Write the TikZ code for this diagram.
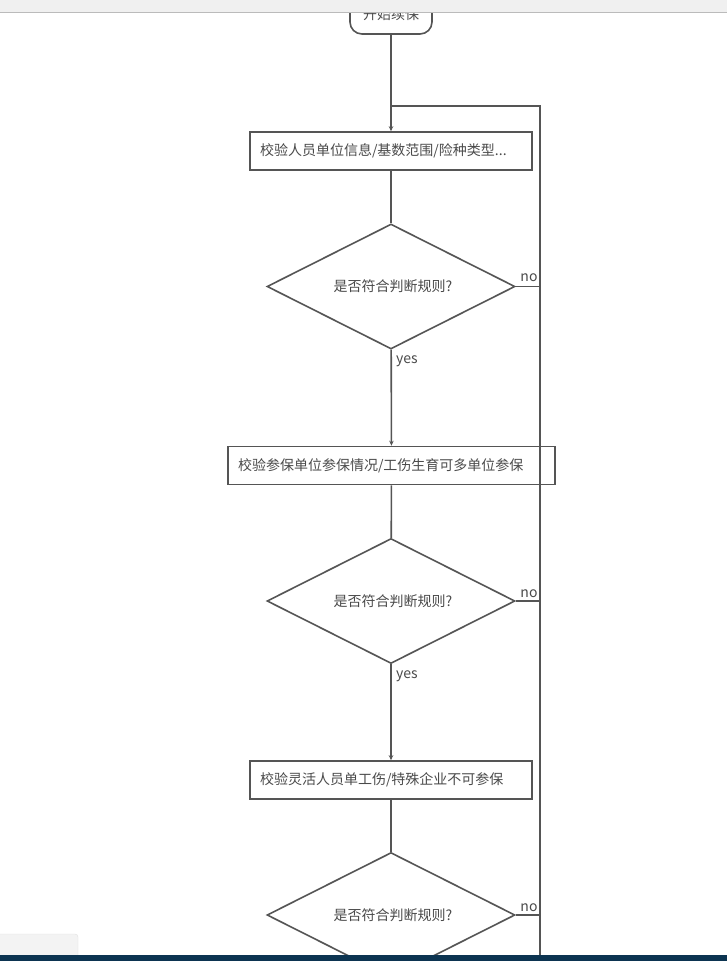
\documentclass[tikz,border=0pt]{standalone}
\usepackage{fontspec}
\setmainfont{Noto Sans CJK SC}
\usetikzlibrary{shapes.geometric,arrows.meta}
\definecolor{ln}{HTML}{555555}
\definecolor{tx}{HTML}{4A4A4A}
\definecolor{barg}{HTML}{F0F0F0}
\definecolor{barline}{HTML}{BBBBBB}
\definecolor{darkbar}{HTML}{0C3451}
\tikzset{
  flow/.style={draw=ln, line width=1.6pt},
  arr/.style={flow, -{Stealth[length=5pt,width=4.5pt]}},
  procbox/.style={draw=ln, line width=1.6pt, rectangle, align=left, inner xsep=10pt, inner ysep=0pt, minimum height=38pt, text=tx, font=\fontsize{14}{16}\selectfont},
  decide/.style={draw=ln, line width=1.6pt, diamond, aspect=2, minimum width=248pt, minimum height=125pt, inner sep=0pt, text=tx, font=\fontsize{14}{16}\selectfont},
  termbox/.style={draw=ln, line width=1.6pt, rectangle, rounded corners=12pt, minimum width=82pt, minimum height=40pt, text=tx, font=\fontsize{14}{16}\selectfont},
  lbl/.style={text=tx, font=\fontsize{14}{16}\selectfont, inner sep=0pt}
}
\begin{document}
\begin{tikzpicture}[x=1pt,y=-1pt]
\useasboundingbox (0,0) rectangle (727,961);
\fill[white] (0,0) rectangle (727,961);
% start
\node[termbox] (start) at (391,14) {开始续保};
% process boxes
\node[procbox, text width=262pt] (b1) at (391,151) {校验人员单位信息/基数范围/险种类型...};
\node[decide] (d1) at (391,286.5) {\hspace*{4pt}是否符合判断规则?};
\node[procbox, text width=307pt] (b2) at (391.5,465.5) {校验参保单位参保情况/工伤生育可多单位参保};
\node[decide] (d2) at (391,601) {\hspace*{4pt}是否符合判断规则?};
\node[procbox, text width=262pt] (b3) at (391,780) {校验灵活人员单工伤/特殊企业不可参保};
\node[decide] (d3) at (391,915) {\hspace*{4pt}是否符合判断规则?};
% rail coordinates
\coordinate (railTop) at (540,106);
\coordinate (railBot) at (540,970);
\coordinate (joinPt) at (391,106);
% connectors
\draw[arr] (start) -- (b1);
\draw[flow] (railBot) -- (railTop) -- (joinPt);
\draw[flow] (b1) -- (d1);
\draw[arr] (d1) -- (b2);
\draw[flow] (b2) -- (d2);
\draw[arr] (d2) -- (b3);
\draw[flow] (b3) -- (d3);
\draw[flow] (d1.east) -- (d1.east -| railTop);
\draw[flow] (d2.east) -- (d2.east -| railTop);
\draw[flow] (d3.east) -- (d3.east -| railTop);
% labels
\node[lbl] (no1) at (529,278) {no};
\node[lbl] (no2) at (529,594) {no};
\node[lbl] (no3) at (529,908) {no};
\node[lbl] (yes1) at (407,361) {yes};
\node[lbl] (yes2) at (407,676) {yes};
% screen chrome
\fill[barg] (0,0) rectangle (727,12);
\draw[barline, line width=1pt] (0,12) -- (727,12);
\filldraw[fill=barg!80!white, draw=black!12, rounded corners=3pt] (-5,934) rectangle (78,960);
\fill[darkbar] (0,955) rectangle (727,961);
\end{tikzpicture}
\end{document}
